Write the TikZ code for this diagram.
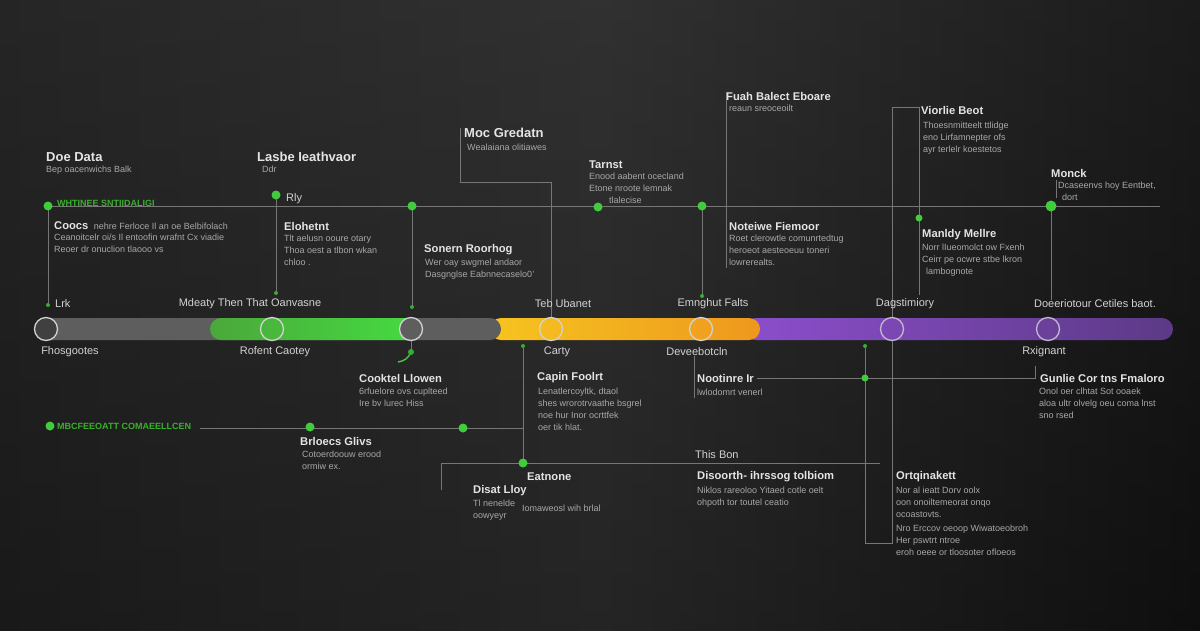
\documentclass[tikz,border=0pt]{standalone}
\usepackage{fontspec}
\setmainfont{Liberation Sans}
\usetikzlibrary{positioning,calc}
\definecolor{bgleft}{RGB}{34,34,34}
\definecolor{bgmid}{RGB}{49,49,49}
\definecolor{bgright}{RGB}{20,20,20}
\definecolor{wire}{RGB}{118,118,118}
\definecolor{dotgreen}{RGB}{64,204,60}
\definecolor{labgreen}{RGB}{58,176,44}
\definecolor{ttlgray}{RGB}{228,228,228}
\definecolor{bodygray}{RGB}{168,168,168}
\definecolor{markgray}{RGB}{210,210,210}
\definecolor{bargray}{RGB}{94,94,94}
\definecolor{grnlo}{RGB}{74,168,58}
\definecolor{grnhi}{RGB}{70,220,66}
\definecolor{yelhi}{RGB}{246,196,32}
\definecolor{orglo}{RGB}{238,152,30}
\definecolor{purhi}{RGB}{140,78,204}
\definecolor{purlo}{RGB}{92,58,134}

\begin{document}
\begin{tikzpicture}[
  x=1pt, y=-1pt,
  link/.style={draw=wire, line width=0.8pt},
  gdot/.style={circle, fill=dotgreen, inner sep=0pt, minimum size=9pt},
  sdot/.style={circle, fill=dotgreen!85!black, inner sep=0pt, minimum size=4pt},
  ring/.style={circle, draw=markgray, line width=1.3pt, inner sep=0pt, minimum size=23pt},
  ttl/.style={font=\fontsize{11.2}{13}\selectfont\bfseries, text=ttlgray, anchor=west, inner sep=0pt},
  ttlbig/.style={ttl, font=\fontsize{13}{15}\selectfont\bfseries},
  bdy/.style={font=\fontsize{9}{12}\selectfont, text=bodygray, anchor=north west, align=left, inner sep=0pt},
  barcap/.style={font=\fontsize{11}{13}\selectfont, text=markgray, inner sep=0pt},
  grnlab/.style={font=\fontsize{9}{10}\selectfont\bfseries, text=labgreen, anchor=west, inner sep=0pt}
]
  % Background
  \shade[left color=bgleft, right color=bgright, middle color=bgmid] (0,0) rectangle (1200,630);
  \shade[top color=bgmid, bottom color=black, opacity=0.25] (0,0) rectangle (1200,630);

  % Progress bar segments
  \shade[left color=purhi, right color=purlo, rounded corners=11pt] (745,318) rectangle (1173,340);
  \shade[left color=yelhi, right color=orglo, rounded corners=11pt] (490,318) rectangle (760,340);
  \fill[bargray, rounded corners=11pt] (35,318) rectangle (501,340);
  \shade[left color=grnlo, right color=grnhi, rounded corners=11pt] (210,318) rectangle (422,340);

  % Milestone rings
  \node[ring, fill=black!75] (cFho) at (46,329) {};
  \node[ring] (cRof) at (272,329) {};
  \node[ring, fill=bargray] (cSon) at (411,329) {};
  \node[ring] (cTeb) at (551,329) {};
  \node[ring] (cEmn) at (701,329) {};
  \node[ring, draw=markgray!80!purhi] (cDag) at (892,329) {};
  \node[ring, draw=markgray!80!purhi] (cRxi) at (1048,329) {};

  % Upper wiring
  \coordinate (hL) at (48,206);
  \coordinate (hR) at (1160,206);
  \coordinate (vA) at (48,305);
  \coordinate (pRly) at (276,195);
  \coordinate (vB) at (276,293);
  \coordinate (pSon) at (412,206);
  \coordinate (vC) at (412,307);
  \coordinate (mTop) at (460,128);
  \coordinate (mElb) at (551,182);
  \coordinate (pTar) at (598,207);
  \coordinate (pEmn) at (702,206);
  \coordinate (vD) at (702,296);
  \coordinate (fTop) at (726,92);
  \coordinate (fBot) at (726,268);
  \coordinate (vTopL) at (892,107);
  \coordinate (vTopR) at (919,107);
  \coordinate (pMan) at (919,218);
  \coordinate (vE) at (919,295);
  \coordinate (pMon) at (1051,206);
  \coordinate (vF) at (1051,300);
  \coordinate (tkA) at (1056,180);
  \coordinate (tkB) at (1056,198);

  \draw[link] (hL) -- (hR);
  \draw[link] (hL) -- (vA);
  \draw[link] (pRly) -- (vB);
  \draw[link] (pSon) -- (vC);
  \draw[link] (mTop) |- (mElb) -- (cTeb);
  \draw[link] (pEmn) -- (vD);
  \draw[link] (fTop) -- (fBot);
  \draw[link] (cDag) -- (vTopL) -- (vTopR) -- (vE);
  \draw[link] (pMon) -- (vF);
  \draw[link] (tkA) -- (tkB);

  % Lower wiring
  \coordinate (pRof) at (411,352);
  \coordinate (rofEnd) at (398,362);
  \coordinate (gL) at (50,426);
  \coordinate (gLs) at (200,428);
  \coordinate (gLe) at (523,428);
  \coordinate (pBrl) at (310,427);
  \coordinate (pCkl) at (463,428);
  \coordinate (pCap) at (523,346);
  \coordinate (pEat) at (523,463);
  \coordinate (hbL) at (441,463);
  \coordinate (hbR) at (880,463);
  \coordinate (hbD) at (441,490);
  \coordinate (nTop) at (694,356);
  \coordinate (nBot) at (694,398);
  \coordinate (nL) at (757,378);
  \coordinate (nR) at (1035,378);
  \coordinate (nTk) at (1035,366);
  \coordinate (pNoo) at (865,378);
  \coordinate (pOrt) at (865,346);
  \coordinate (oBL) at (865,543);
  \coordinate (oBR) at (892,543);

  \draw[link] (cSon) -- (pRof);
  \draw[dotgreen, line width=1.4pt] (pRof) to[bend left=30] (rofEnd);
  \draw[link] (gLs) -- (gLe);
  \draw[link] (pCap) -- (pEat);
  \draw[link] (hbD) -- (hbL) -- (hbR);
  \draw[link] (nTop) -- (nBot);
  \draw[link] (nL) -- (nR) -- (nTk);
  \draw[link] (pOrt) -- (oBL) -- (oBR) -- (cDag);

  % Green dots
  \node[gdot] (dA) at (hL) {};
  \node[sdot] (dAs) at (vA) {};
  \node[gdot] (dRly) at (pRly) {};
  \node[sdot] (dRlys) at (vB) {};
  \node[gdot] (dSon) at (pSon) {};
  \node[sdot] (dSons) at (vC) {};
  \node[gdot] (dTar) at (pTar) {};
  \node[gdot] (dEmn) at (pEmn) {};
  \node[sdot] (dEmns) at (vD) {};
  \node[gdot, minimum size=7pt] (dMan) at (pMan) {};
  \node[gdot, minimum size=11pt] (dMon) at (pMon) {};
  \node[sdot, minimum size=6pt] (dRof) at (pRof) {};
  \node[gdot] (dGl) at (gL) {};
  \node[gdot] (dBrl) at (pBrl) {};
  \node[gdot] (dCkl) at (pCkl) {};
  \node[sdot] (dCap) at (pCap) {};
  \node[gdot] (dEat) at (pEat) {};
  \node[gdot, minimum size=7pt] (dNoo) at (pNoo) {};
  \node[sdot] (dOrt) at (pOrt) {};

  % Upper texts
  \node[ttlbig] (tDoe) at (46,157) {Doe Data};
  \node[bdy] (bDoe) at (46,166) {Bep oacenwichs Balk};
  \node[grnlab] (gWht) at (57,203) {WHTINEE SNTIIDALIGI};
  \node[ttl] (tCoo) at (54,226) {Coocs};
  \node[bdy, anchor=base west] (bCooA) at ([xshift=5pt]tCoo.base east) {nehre Ferloce Il an oe Belbifolach};
  \node[bdy] (bCoo) at (54,234) {Ceanoitcelr oi/s Il entoofin wrafnt Cx viadie\\Reoer dr onuclion tlaooo vs};
  \node[barcap, anchor=west] (mLrk) at (55,304) {Lrk};

  \node[ttlbig] (tLas) at (257,157) {Lasbe Ieathvaor};
  \node[bdy] (bLas) at (262,166) {Ddr};
  \node[barcap, anchor=west] (mRly) at (286,199) {Rly};
  \node[ttl] (tElo) at (284,226) {Elohetnt};
  \node[bdy] (bElo) at (284,235) {Tlt aelusn ooure otary\\Thoa oest a tlbon wkan\\chloo .};

  \node[ttlbig] (tMoc) at (464,133) {Moc Gredatn};
  \node[bdy] (bMoc) at (467,144) {Wealaiana olitiawes};
  \node[ttl] (tSon) at (424,250) {Sonern Roorhog};
  \node[bdy] (bSon) at (425,259) {Wer oay swgmel andaor\\Dasgnglse Eabnnecaselo0'};
  \node[ttl] (tTar) at (589,165) {Tarnst};
  \node[bdy] (bTar) at (589,173) {Enood aabent ocecland\\Etone nroote lemnak\\\hspace{20pt}tlalecise};
  \node[ttl] (tFua) at (726,96) {Fuah Balect Eboare};
  \node[bdy] (bFua) at (729,105) {reaun sreoceoilt};
  \node[ttl] (tNot) at (729,226) {Noteiwe Fiemoor};
  \node[bdy] (bNot) at (729,235) {Roet clerowtle comunrtedtug\\heroeot aesteoeuu toneri\\lowrerealts.};
  \node[ttl] (tVio) at (921,110) {Viorlie Beot};
  \node[bdy] (bVio) at (923,122) {Thoesnmitteelt ttlidge\\eno Lirfamnepter ofs\\ayr terlelr koestetos};
  \node[ttl] (tMan) at (922,235) {Manldy Mellre};
  \node[bdy] (bMan) at (922,244) {Norr lIueomolct ow Fxenh\\Ceirr pe ocwre stbe lkron\\\hspace{4pt}lambognote};
  \node[ttl] (tMon) at (1051,173) {Monck};
  \node[bdy] (bMon) at (1058,182) {Dcaseenvs hoy Eentbet,\\\hspace{4pt}dort};

  % Bar captions
  \node[barcap] (mMde) at (250,304) {Mdeaty Then That Oanvasne};
  \node[barcap] (mTeb) at (563,304) {Teb Ubanet};
  \node[barcap] (mEmn) at (713,304) {Emnghut Falts};
  \node[barcap] (mDag) at (905,304) {Dagstimiory};
  \node[barcap] (mDoe) at (1095,304) {Doeeriotour Cetiles baot.};
  \node[barcap] (mFho) at (70,352) {Fhosgootes};
  \node[barcap] (mRof) at (275,352) {Rofent Caotey};
  \node[barcap] (mCar) at (557,352) {Carty};
  \node[barcap] (mDev) at (697,352) {Deveebotcln};
  \node[barcap] (mRxi) at (1044,352) {Rxignant};

  % Lower texts
  \node[ttl] (tCkl) at (359,378) {Cooktel Llowen};
  \node[bdy] (bCkl) at (359,388) {6rfuelore ovs cuplteed\\Ire bv lurec Hiss};
  \node[grnlab] (gMbc) at (57,426) {MBCFEEOATT COMAEELLCEN};
  \node[ttl] (tBrl) at (300,441) {Brloecs Glivs};
  \node[bdy] (bBrl) at (302,451) {Cotoerdoouw erood\\ormiw ex.};
  \node[ttl] (tCap) at (537,378) {Capin Foolrt};
  \node[bdy] (bCap) at (538,388) {Lenatlercoyltk, dtaol\\shes wrorotrvaathe bsgrel\\noe hur Inor ocrttfek\\oer tik hlat.};
  \node[ttl] (tEat) at (527,477) {Eatnone};
  \node[ttl] (tDis) at (473,491) {Disat Lloy};
  \node[bdy] (bDis) at (473,500) {Tl nenelde\\oowyeyr};
  \node[bdy] (bDisB) at (522,505) {Iomaweosl wih brlal};
  \node[ttl] (tNoo) at (697,378) {Nootinre Ir};
  \node[bdy] (bNoo) at (697,389) {lwlodomrt venerl};
  \node[ttl] (tGun) at (1040,378) {Gunlie Cor tns Fmaloro};
  \node[bdy] (bGun) at (1039,388) {Onol oer clhtat Sot ooaek\\aloa ultr olvelg oeu coma lnst\\sno rsed};
  \node[barcap, anchor=west] (mThi) at (695,455) {This Bon};
  \node[ttl] (tDso) at (697,477) {Disoorth- ihrssog tolbiom};
  \node[bdy] (bDso) at (697,487) {Niklos rareoloo Yitaed cotle oelt\\ohpoth tor toutel ceatio};
  \node[ttl] (tOrt) at (896,477) {Ortqinakett};
  \node[bdy] (bOrt) at (896,487) {Nor al ieatt Dorv oolx\\oon onoiltemeorat onqo\\ocoastovts.};
  \node[bdy] (bOrtB) at (896,525) {Nro Erccov oeoop Wiwatoeobroh\\Her pswtrt ntroe\\eroh oeee or tloosoter ofloeos};
\end{tikzpicture}
\end{document}
